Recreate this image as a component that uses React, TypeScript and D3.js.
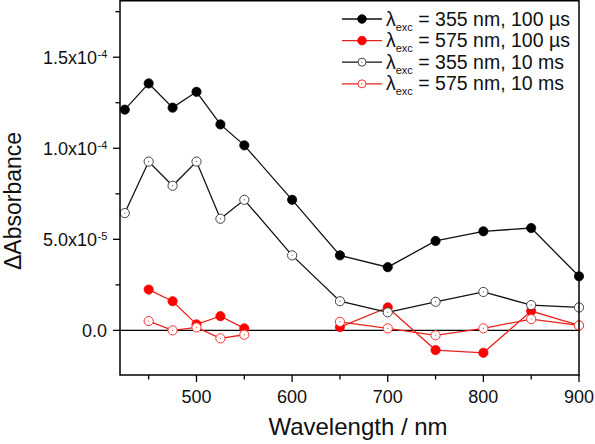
import React from "react";
import * as d3 from "d3";

const wavelengths = [425, 450, 475, 500, 525, 550, 600, 650, 700, 750, 800, 850, 900];
const uv100us = [1.212e-4, 1.356e-4, 1.223e-4, 1.31e-4, 1.131e-4, 1.016e-4, 0.717e-4, 4.12e-5, 3.47e-5, 4.91e-5, 5.44e-5, 5.62e-5, 2.97e-5];
const vis100us = [null, 2.24e-5, 1.6e-5, 0.33e-5, 0.78e-5, 0.11e-5, null, 0.18e-5, 1.26e-5, -1.08e-5, -1.23e-5, 1.06e-5, 0.27e-5];
const uv10ms = [6.44e-5, 9.27e-5, 7.94e-5, 9.27e-5, 6.13e-5, 7.17e-5, 4.12e-5, 1.6e-5, 0.99e-5, 1.57e-5, 2.11e-5, 1.39e-5, 1.26e-5];
const vis10ms = [null, 0.51e-5, 0.0, 0.16e-5, -0.44e-5, -0.24e-5, null, 0.47e-5, 0.11e-5, -0.27e-5, 0.11e-5, 0.62e-5, 0.27e-5];

const xMajorTicks = [500, 600, 700, 800, 900];
const xMinorTicks = [450, 550, 650, 750, 850];
const yMajorTicks = [0, 5e-5, 1e-4, 1.5e-4];
const yMajorLabels = [{ m: "0.0", e: "" }, { m: "5.0x10", e: "-5" }, { m: "1.0x10", e: "-4" }, { m: "1.5x10", e: "-4" }];
const yMinorTicks = [2.5e-5, 7.5e-5, 1.25e-4, 1.75e-4];

const seriesList = [
  { key: "a", values: uv100us, color: "#000", filled: true, wl: "355 nm", t: "100 \u00b5s" },
  { key: "b", values: vis100us, color: "#f00", filled: true, wl: "575 nm", t: "100 \u00b5s" },
  { key: "c", values: uv10ms, color: "#000", filled: false, wl: "355 nm", t: "10 ms" },
  { key: "d", values: vis10ms, color: "#f00", filled: false, wl: "575 nm", t: "10 ms" },
];

const W = 595, H = 444;
const L = 120, R = 579, T = 0.75, B = 375;
const FONT = "Liberation Sans, Arial, sans-serif";

export default function App() {
  const x = d3.scaleLinear().domain([420, 900]).range([L, R]);
  const y = d3.scaleLinear().domain([-2.45e-5, 1.81e-4]).range([B, T]);
  type P = { w: number; v: number | null };
  const line = d3.line<P>().defined((d) => d.v != null).x((d) => x(d.w)).y((d) => y(d.v as number));

  return (
    <svg width={W} height={H} style={{ position: "absolute", left: 0, top: 0, background: "#fff" }} fontFamily={FONT}>
      <rect x={0} y={0} width={W} height={H} fill="#fff" />
      {/* zero line */}
      <line x1={L} x2={R} y1={y(0)} y2={y(0)} stroke="#000" strokeWidth={1.2} />
      {/* series */}
      {seriesList.map((s) => {
        const pts: P[] = wavelengths.map((w, i) => ({ w, v: s.values[i] }));
        const lineColor = s.color === "#f00" ? "#e8231d" : "#111";
        return (
          <g key={s.key}>
            <path d={line(pts) || ""} fill="none" stroke={lineColor} strokeWidth={1.3} />
            {pts.filter((p) => p.v != null).map((p, i) => (
              <g key={i}>
                <circle cx={x(p.w)} cy={y(p.v as number)} r={4.6}
                  fill={s.filled ? s.color : "#fff"} stroke={s.filled ? s.color : (s.color === "#f00" ? "#f33" : "#444")} strokeWidth={s.filled ? 0.8 : 1} />
                {!s.filled && <circle cx={x(p.w)} cy={y(p.v as number)} r={0.7} fill={s.color === "#f00" ? "#f66" : "#777"} />}
              </g>
            ))}
          </g>
        );
      })}
      {/* frame */}
      <rect x={L} y={T} width={R - L} height={B - T} fill="none" stroke="#000" strokeWidth={1.5} />
      {/* x ticks */}
      {xMajorTicks.map((t) => (
        <g key={"xm" + t}>
          <line x1={x(t)} x2={x(t)} y1={B} y2={B + 7} stroke="#000" strokeWidth={1.3} />
          <text x={x(t)} y={403} textAnchor="middle" fontSize={18} fill="#111">{t}</text>
        </g>
      ))}
      {xMinorTicks.map((t) => (
        <line key={"xn" + t} x1={x(t)} x2={x(t)} y1={B} y2={B + 4.5} stroke="#000" strokeWidth={1.3} />
      ))}
      {/* y ticks */}
      {yMajorTicks.map((t, i) => (
        <g key={"ym" + t}>
          <line x1={L - 7} x2={L} y1={y(t)} y2={y(t)} stroke="#000" strokeWidth={1.3} />
          <text x={yMajorLabels[i].e ? 97 : 107} y={y(t) + 6.5} textAnchor="end" fontSize={18} fill="#111">{yMajorLabels[i].m}</text>
          {yMajorLabels[i].e && (
            <text x={97.5} y={y(t) + 0.5} textAnchor="start" fontSize={11} fill="#111">{yMajorLabels[i].e}</text>
          )}
        </g>
      ))}
      {yMinorTicks.map((t) => (
        <line key={"yn" + t} x1={L - 4.5} x2={L} y1={y(t)} y2={y(t)} stroke="#000" strokeWidth={1.3} />
      ))}
      {/* axis titles */}
      <text x={358} y={435} textAnchor="middle" fontSize={24} fill="#111">Wavelength / nm</text>
      <text transform={`translate(21,${201}) rotate(-90)`} textAnchor="middle" fontSize={23} fill="#111">{"\u0394Absorbance"}</text>
      {/* legend */}
      {seriesList.map((s, i) => {
        const ly = 19 + i * 21.6;
        const lineColor = s.color === "#f00" ? "#e8231d" : "#111";
        return (
          <g key={"lg" + s.key}>
            <line x1={342} x2={382} y1={ly} y2={ly} stroke={lineColor} strokeWidth={1.3} />
            <circle cx={362} cy={ly} r={s.filled ? 4.3 : 4} fill={s.filled ? s.color : "#fff"}
              stroke={s.filled ? s.color : (s.color === "#f00" ? "#f33" : "#444")} strokeWidth={s.filled ? 0.8 : 1} />
            {!s.filled && <circle cx={362} cy={ly} r={0.7} fill={s.color === "#f00" ? "#f66" : "#777"} />}
            <text x={386} y={ly + 6.5} fontSize={19.5} fill="#111">
              {"\u03bb"}
              <tspan fontSize={11} dy={5}>exc</tspan>
              <tspan dy={-5}>{` = ${s.wl}, ${s.t}`}</tspan>
            </text>
          </g>
        );
      })}
    </svg>
  );
}
